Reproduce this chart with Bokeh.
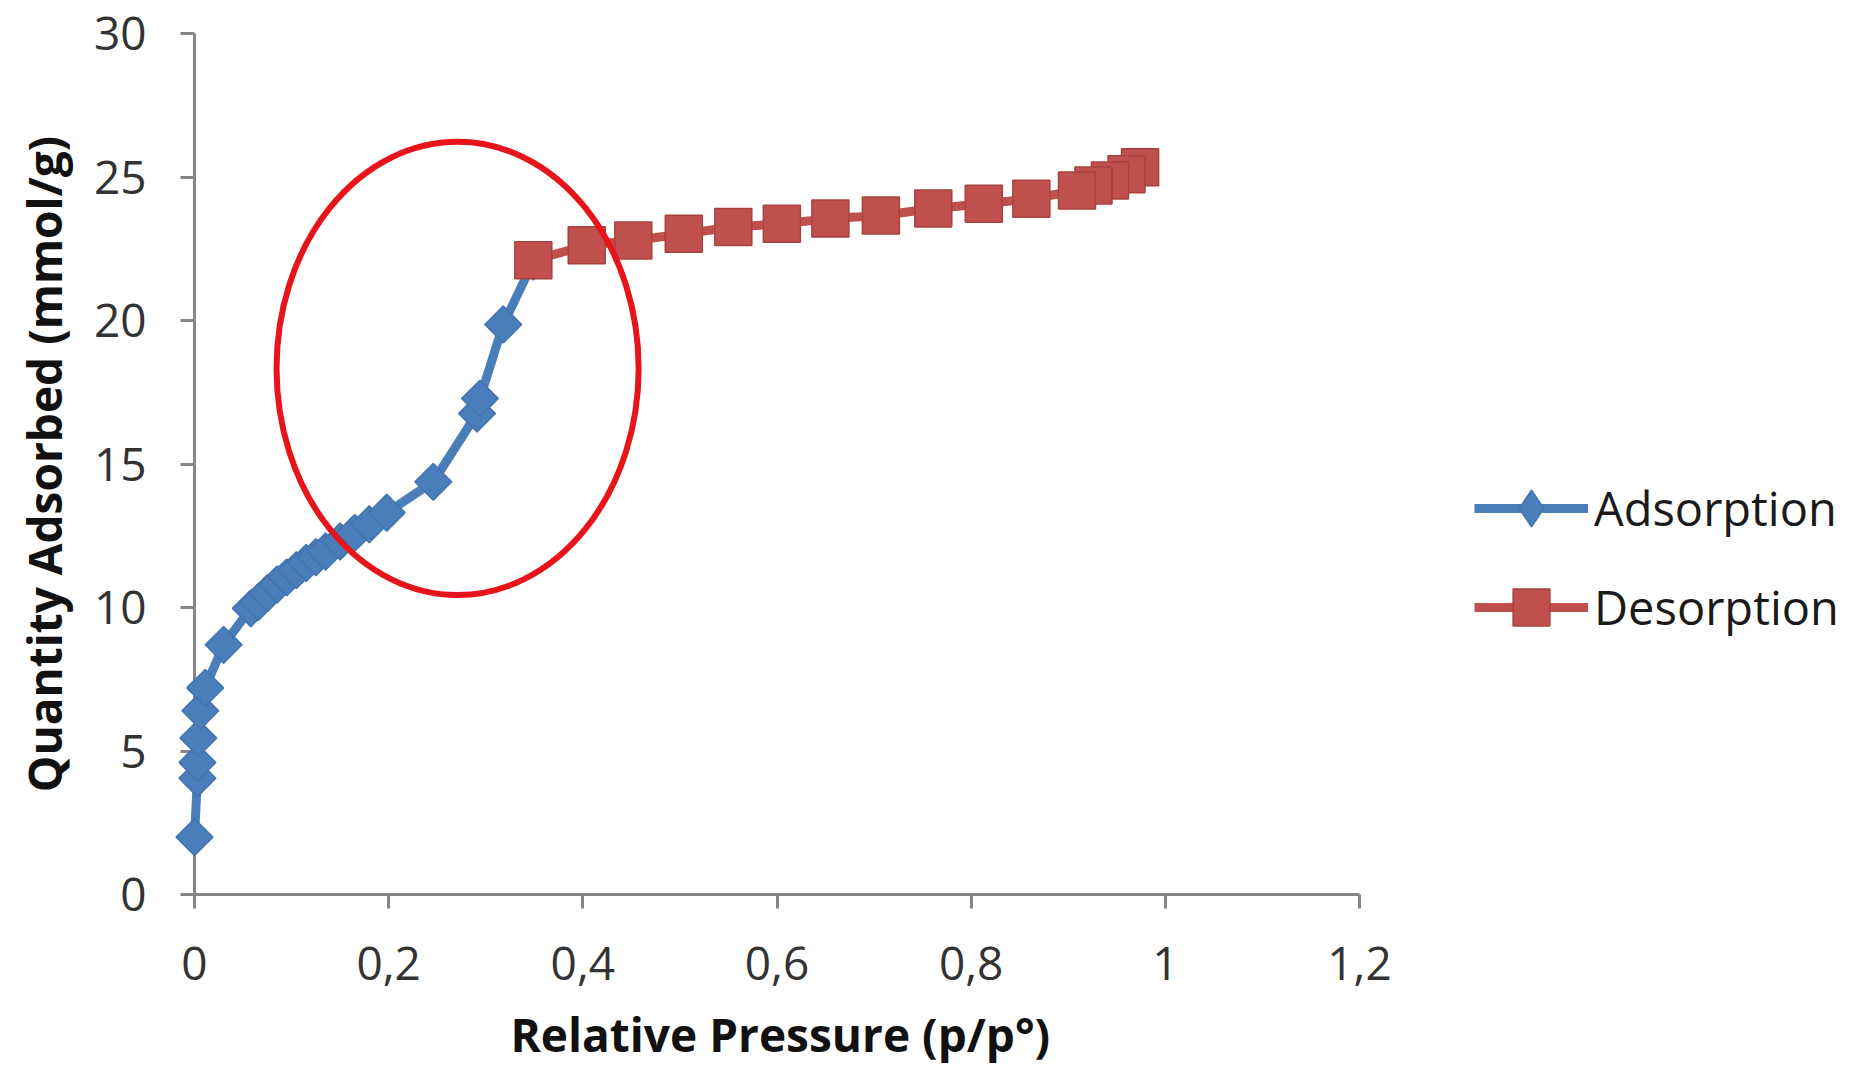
import numpy as np
from bokeh.plotting import figure
from bokeh.models import (FixedTicker, CustomJSTickFormatter, Legend, LegendItem,
                          Range1d, Title)
from bokeh.embed import file_html
from bokeh.resources import INLINE

# ---------------- data ----------------
ads_x = [0.0, 0.003, 0.003, 0.004, 0.006, 0.011, 0.030, 0.058, 0.066, 0.075,
         0.085, 0.095, 0.105, 0.115, 0.125, 0.135, 0.150, 0.165, 0.180, 0.198,
         0.246, 0.291, 0.294, 0.318, 0.349]
ads_y = [2.0, 4.05, 4.6, 5.45, 6.4, 7.2, 8.7, 9.97, 10.2, 10.5,
         10.8, 11.05, 11.3, 11.55, 11.75, 11.95, 12.3, 12.6, 12.9, 13.3,
         14.38, 16.76, 17.28, 19.86, 22.05]

des_x = [0.974, 0.960, 0.943, 0.926, 0.909, 0.862, 0.813, 0.761, 0.707, 0.655,
         0.605, 0.555, 0.504, 0.452, 0.404, 0.349]
des_y = [25.34, 25.1, 24.88, 24.7, 24.53, 24.24, 24.07, 23.9, 23.66, 23.55,
         23.37, 23.26, 23.02, 22.79, 22.62, 22.1]

x_ticks = [0, 0.2, 0.4, 0.6, 0.8, 1.0, 1.2]
x_tick_labels = ["0", "0,2", "0,4", "0,6", "0,8", "1", "1,2"]
y_ticks = [0, 5, 10, 15, 20, 25, 30]

series_names = ["Adsorption", "Desorption"]
x_title = "Relative Pressure (p/p°)"
y_title = "Quantity Adsorbed (mmol/g)"

# highlight ellipse annotation (data units)
ELL_X, ELL_Y, ELL_W, ELL_H = 0.271, 18.33, 0.373, 15.8

# ---------------- layout ----------------
AXIS_PX = 1165          # pixel length of the 0..1.2 x axis
FRAME_PX = 1650         # frame extends right to host the legend
X_AXIS_MAX = 1.2
X_VIEW_MAX = X_AXIS_MAX * FRAME_PX / AXIS_PX

# ---------------- styles ----------------
BLUE = "#4A7EBB"
BLUE_EDGE = "#4173B0"
RED = "#C0504D"
RED_EDGE = "#A9423F"
AXIS_GRAY = "#868686"

p = figure(width=194 + FRAME_PX, height=1082, output_backend="svg",
           toolbar_location=None,
           x_range=Range1d(0, X_VIEW_MAX), y_range=Range1d(0, 30),
           min_border_left=194, min_border_right=0,
           min_border_top=33, min_border_bottom=186)
p.xgrid.visible = False
p.ygrid.visible = False
p.outline_line_color = None
p.background_fill_color = "white"
p.border_fill_color = "white"

for ax in (p.xaxis[0], p.yaxis[0]):
    ax.axis_line_color = AXIS_GRAY
    ax.axis_line_width = 3
    ax.major_tick_line_color = AXIS_GRAY
    ax.major_tick_line_width = 3
    ax.major_tick_out = 14
    ax.major_tick_in = 0
    ax.minor_tick_line_color = None
    ax.major_label_text_font = "Open Sans"
    ax.major_label_text_font_size = "46px"
    ax.major_label_text_color = "#333333"
    ax.axis_label_text_font = "Open Sans"
    ax.axis_label_text_font_style = "bold"
    ax.axis_label_text_font_size = "46px"
    ax.axis_label_text_color = "#111111"

p.xaxis[0].bounds = (0, X_AXIS_MAX)
p.xaxis[0].ticker = FixedTicker(ticks=x_ticks)
p.xaxis[0].formatter = CustomJSTickFormatter(
    args=dict(tvals=x_ticks, tlabels=x_tick_labels),
    code="""
    for (let i = 0; i < tvals.length; i++) {
        if (Math.abs(tvals[i] - tick) < 1e-9) { return tlabels[i]; }
    }
    return "";
    """)
p.yaxis[0].ticker = FixedTicker(ticks=y_ticks)
p.yaxis[0].axis_label = y_title
p.xaxis[0].major_label_standoff = 38
p.yaxis[0].major_label_standoff = 34
p.yaxis[0].axis_label_standoff = 16

# x-axis title centred under the 0..1.2 axis (the frame itself is wider)
p.add_layout(Title(text=x_title, align="left", offset=316, standoff=36,
                   text_font="Open Sans", text_font_style="bold",
                   text_font_size="46px", text_color="#111111"), "below")

l1 = p.line(ads_x, ads_y, line_color=BLUE, line_width=9, level="annotation")
s1 = p.scatter(ads_x, ads_y, marker="square", angle=np.pi / 4, size=26,
               fill_color=BLUE, line_color=BLUE_EDGE, line_width=1.5,
               level="annotation")
l2 = p.line(des_x, des_y, line_color=RED, line_width=9, level="annotation")
s2 = p.scatter(des_x, des_y, marker="square", size=37,
               fill_color=RED, line_color=RED_EDGE, line_width=1.5,
               level="annotation")
# legend-only diamond key (legend markers are drawn unrotated); draws nothing in the plot
s1_key = p.scatter(x=[float("nan")], y=[float("nan")], marker="diamond", size=26,
                   fill_color=BLUE, line_color=BLUE_EDGE, line_width=1.5)

p.ellipse(x=[ELL_X], y=[ELL_Y], width=ELL_W, height=ELL_H, fill_alpha=0,
          line_color="#E8141B", line_width=6, level="overlay")

legend = Legend(items=[LegendItem(label=series_names[0], renderers=[l1, s1_key]),
                       LegendItem(label=series_names[1], renderers=[l2, s2])],
                location=(1280, 241), orientation="vertical",
                glyph_width=114, glyph_height=92, label_standoff=6,
                spacing=7, padding=0, margin=0,
                border_line_alpha=0, background_fill_alpha=0,
                label_text_font="Open Sans", label_text_font_size="47px",
                label_text_color="#1a1a1a")
p.add_layout(legend, "center")

open("out.html", "w").write(file_html(p, INLINE))
